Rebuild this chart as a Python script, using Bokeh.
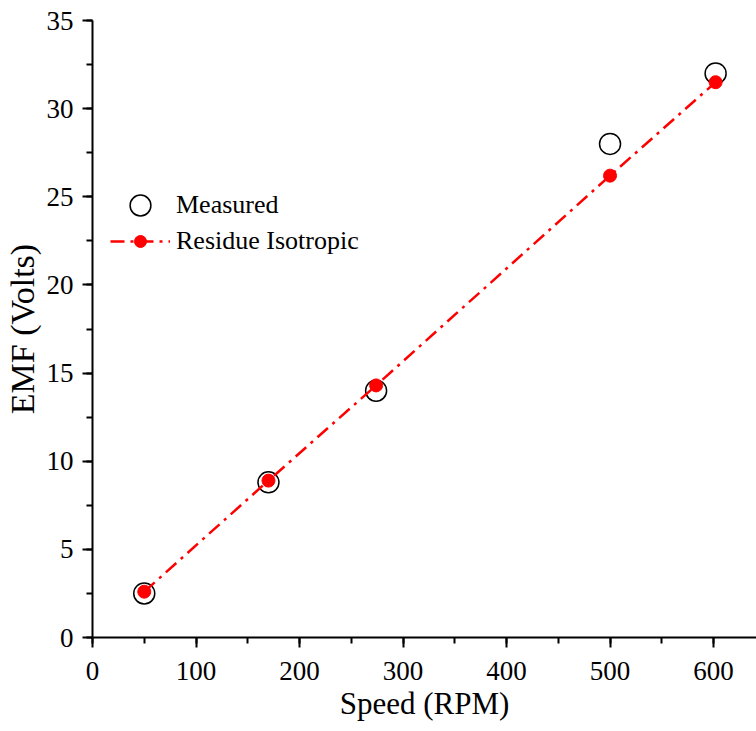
from bokeh.plotting import figure
from bokeh.models import Range1d, SingleIntervalTicker, Legend, LegendItem
from bokeh.embed import file_html
from bokeh.resources import INLINE

speed_measured = [50, 170, 274, 500, 602]
emf_measured = [2.5, 8.8, 14.0, 28.0, 32.0]
speed_residue = [50, 170, 274, 500, 602]
emf_residue = [2.6, 8.9, 14.3, 26.2, 31.5]

FONT = "Liberation Serif"

p = figure(width=756, height=731, output_backend="svg", toolbar_location=None,
           x_range=Range1d(0, 641.5), y_range=Range1d(0, 35),
           min_border_left=92, min_border_right=0, min_border_top=20, min_border_bottom=94)
p.outline_line_color = None
p.xgrid.grid_line_color = None
p.ygrid.grid_line_color = None
p.background_fill_color = "white"

p.xaxis.ticker = SingleIntervalTicker(interval=100, num_minor_ticks=2)
p.yaxis.ticker = SingleIntervalTicker(interval=5, num_minor_ticks=2)
for ax in (p.xaxis[0], p.yaxis[0]):
    ax.axis_line_width = 2
    ax.axis_line_color = "black"
    ax.major_tick_line_width = 2
    ax.minor_tick_line_width = 2
    ax.major_tick_line_color = "black"
    ax.minor_tick_line_color = "black"
    ax.major_tick_in = 0
    ax.major_tick_out = 10
    ax.minor_tick_in = 0
    ax.minor_tick_out = 6
    ax.major_label_text_font = FONT
    ax.major_label_text_font_size = "27px"
    ax.major_label_text_color = "black"
    ax.axis_label_text_font = FONT
    ax.axis_label_text_font_style = "normal"
    ax.axis_label_text_color = "black"

p.xaxis.major_label_standoff = 14
p.yaxis.major_label_standoff = 9
p.xaxis.axis_label = "Speed (RPM)"
p.xaxis.axis_label_text_font_size = "31px"
p.xaxis.axis_label_standoff = 3
p.yaxis.axis_label = "EMF (Volts)"
p.yaxis.axis_label_text_font_size = "34px"
p.yaxis.axis_label_standoff = 3

r_meas = p.scatter(speed_measured, emf_measured, marker="circle", size=21,
                   fill_color=None, line_color="black", line_width=1.5)
r_line = p.line(speed_residue, emf_residue, line_color="red", line_width=2.5,
                line_dash="14 6 3 6")
r_dots = p.scatter(speed_residue, emf_residue, marker="circle", size=13,
                   fill_color="red", line_color="red")

def style_legend(lg, gh):
    lg.border_line_color = None
    lg.background_fill_alpha = 0
    lg.padding = 0
    lg.margin = 0
    lg.spacing = 0
    lg.glyph_width = 60
    lg.glyph_height = gh
    lg.label_height = gh
    lg.label_standoff = 6
    lg.label_text_font = FONT
    lg.label_text_font_size = "26px"
    lg.label_text_color = "black"

legend1 = Legend(items=[LegendItem(label="Measured", renderers=[r_meas])],
                 location=(18, 406))
style_legend(legend1, 52)
legend2 = Legend(items=[LegendItem(label="Residue Isotropic", renderers=[r_line, r_dots])],
                 location=(18, 381))
style_legend(legend2, 30)
p.add_layout(legend1, "center")
p.add_layout(legend2, "center")

open("out.html", "w").write(file_html(p, INLINE))
